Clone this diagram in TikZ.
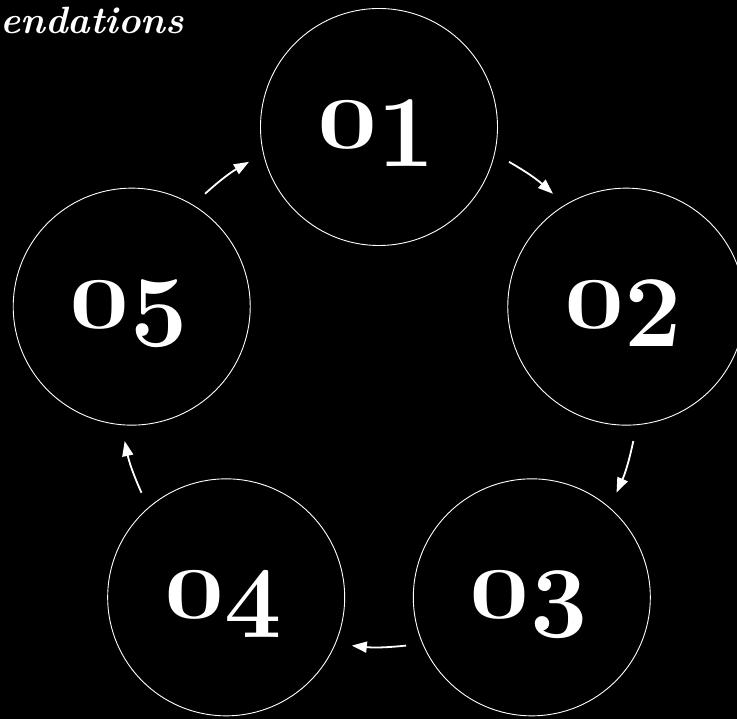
\documentclass[tikz,border=0pt]{standalone}
\usepackage{graphicx}
\usetikzlibrary{arrows.meta}
\newcommand{\stepno}[1]{\raisebox{0.18em}{\scalebox{1.05}[0.72]{0}}#1\kern6pt}
\begin{document}
\begin{tikzpicture}[x=1pt,y=1pt]
\tikzstyle{every node}+=[inner sep=0pt]
\tikzstyle{stepring}=[draw=white, line width=0.9pt, circle, minimum size=237pt, text=white, font=\fontsize{102}{102}\selectfont\bfseries, text height=80pt, text depth=0pt]
\tikzstyle{flow}=[white, line width=1.8pt, -{Triangle[length=15pt,width=11pt]}]
\fill [black] (-379,-332) rectangle (358,387);
\useasboundingbox (-379,-332) rectangle (358,387);
\node [white, anchor=base west, font=\fontsize{38}{38}\selectfont\bfseries\itshape] (title) at (-379,353) {endations};
\node [stepring] (s1) at (90:260) {\stepno{1}};
\node [stepring] (s2) at (18:260) {\stepno{2}};
\node [stepring] (s3) at (-54:260) {\stepno{3}};
\node [stepring] (s4) at (-126:260) {\stepno{4}};
\node [stepring] (s5) at (162:260) {\stepno{5}};
\coordinate (a12) at (60:260);
\coordinate (b12) at (48:260);
\coordinate (a23) at (-12:260);
\coordinate (b23) at (-24:260);
\coordinate (a34) at (-84:260);
\coordinate (b34) at (-96:260);
\coordinate (a45) at (204:260);
\coordinate (b45) at (192:260);
\coordinate (a51) at (132:260);
\coordinate (b51) at (120:260);
\draw [flow] (a12) to [bend left=6] (b12);
\draw [flow] (a23) to [bend left=6] (b23);
\draw [flow] (a34) to [bend left=6] (b34);
\draw [flow] (a45) to [bend left=6] (b45);
\draw [flow] (a51) to [bend left=6] (b51);
\end{tikzpicture}
\end{document}
